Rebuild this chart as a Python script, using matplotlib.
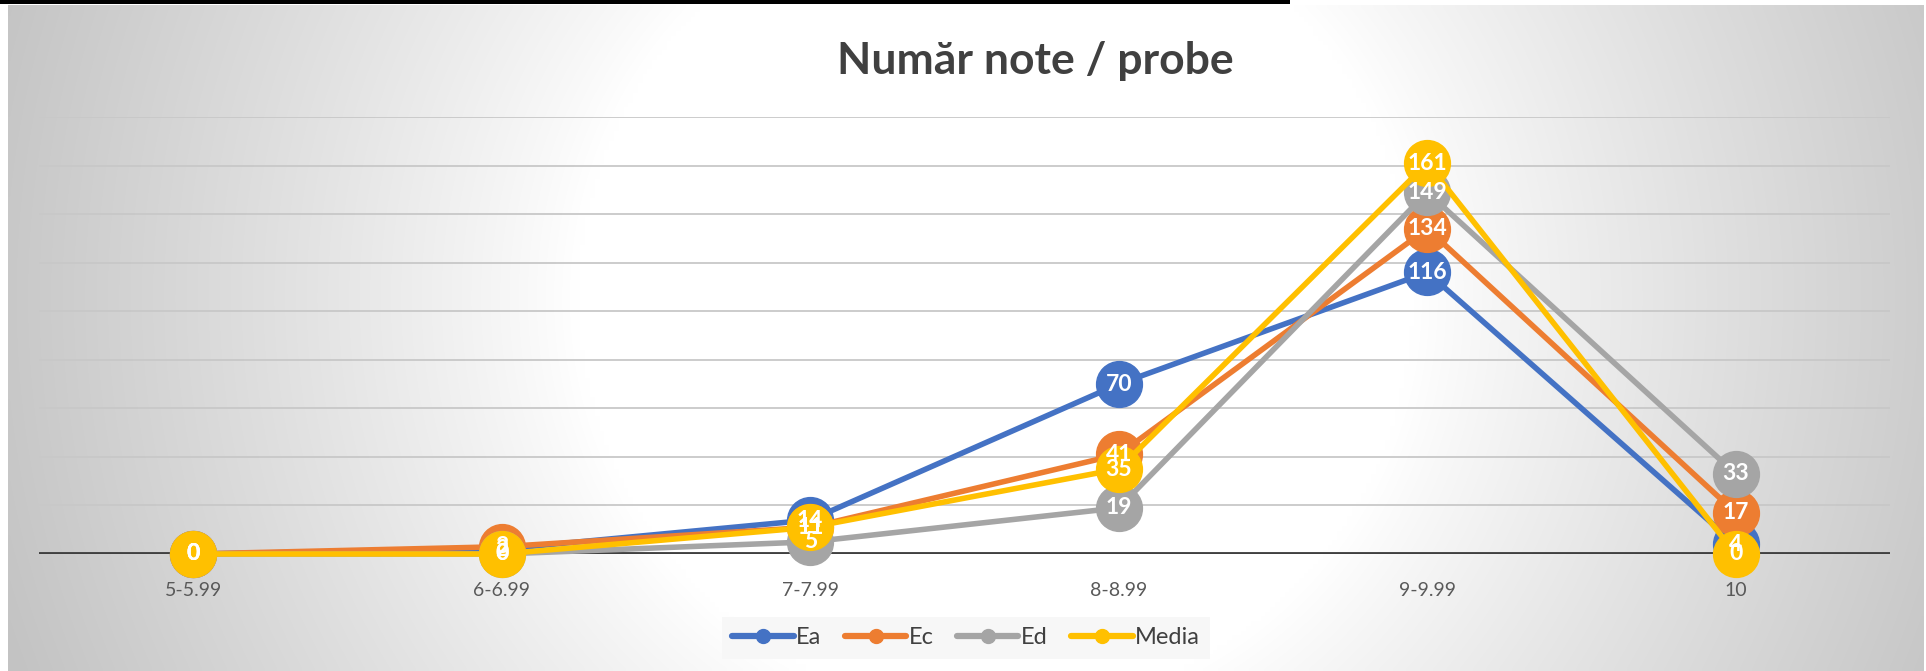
import numpy as np
import matplotlib
matplotlib.use("Agg")
import matplotlib.pyplot as plt
from matplotlib.lines import Line2D
from matplotlib.patches import Rectangle

categories = ["5-5.99", "6-6.99", "7-7.99", "8-8.99", "9-9.99", "10"]
ea = [0, 2, 14, 70, 116, 4]
ec = [0, 3, 11, 41, 134, 17]
ed = [0, 0, 5, 19, 149, 33]
media = [0, 0, 11, 35, 161, 0]
series_names = ["Ea", "Ec", "Ed", "Media"]
series_values = [ea, ec, ed, media]
colors = ["#4472C4", "#ED7D31", "#A5A5A5", "#FFC000"]
title = "Număr note / probe"

plt.rcParams['font.family'] = ['Lato', 'DejaVu Sans']

W, H = 1926, 671
fig = plt.figure(figsize=(W / 100, H / 100), dpi=100)
fig.patch.set_facecolor("white")

# black bar at top
fig.patches.append(Rectangle((0, 1 - 4 / H), 1290 / W, 4 / H, transform=fig.transFigure,
                             facecolor="black", edgecolor="none", zorder=0))

# radial gradient background
x0, y0, x1, y1 = 8, 5, 1923, 671
bg = fig.add_axes([x0 / W, 1 - y1 / H, (x1 - x0) / W, (y1 - y0) / H], zorder=-1)
nx, ny = 400, 140
xs = np.linspace(x0, x1, nx)
ys = np.linspace(y0, y1, ny)
XX, YY = np.meshgrid(xs, ys)
cx, cy = (x0 + x1) / 2 + 30, (y0 + y1) / 2 - 40
r = np.sqrt((XX - cx) ** 2 + (YY - cy) ** 2)
t = np.clip((r - 420) / (1050 - 420), 0, 1)
t = t ** 0.9
val = 1.0 - t * (1.0 - 0.765)
img = np.dstack([val, val, val])
bg.imshow(img, extent=[0, 1, 0, 1], aspect="auto", origin="upper", interpolation="bilinear")
bg.set_axis_off()

# main axes
left, right = 39, 1890
top, zero = 117, 554
ax = fig.add_axes([left / W, 1 - zero / H, (right - left) / W, (zero - top) / H])
ax.set_facecolor("none")
ax.set_xlim(-0.5, len(categories) - 0.5)
ax.set_ylim(0, 180)
for s in ax.spines.values():
    s.set_visible(False)
for yv in range(20, 181, 20):
    ax.axhline(yv, color="#C8C8C8", lw=1.3, zorder=1)
ax.axhline(0, color="#404040", lw=3.5, zorder=2)
ax.set_yticks([])
x = np.arange(len(categories))
ax.set_xticks(x)
ax.set_xticklabels(categories, fontsize=14, color="#595959")
ax.tick_params(axis="x", length=0, pad=20)

for i, (name, vals, col) in enumerate(zip(series_names, series_values, colors)):
    ax.plot(x, vals, color=col, lw=4, marker="o", markersize=33, markerfacecolor=col,
            markeredgecolor=col, zorder=3 + i, clip_on=False, solid_capstyle="round")
for i, (name, vals, col) in enumerate(zip(series_names, series_values, colors)):
    for xi, v in zip(x, vals):
        ax.text(xi, v, str(v), ha="center", va="center", color="white",
                fontsize=16.5, fontweight="bold", zorder=10 + i, clip_on=False)

fig.text(1035 / W, 1 - 61 / H, title, ha="center", va="center", fontsize=32,
         fontweight="bold", color="#404040")

handles = [Line2D([0], [0], color=c, lw=4.5, marker="o", markersize=10, solid_capstyle="round")
           for c in colors]
leg = fig.legend(handles, series_names, loc="center", bbox_to_anchor=(966 / W, 1 - 638 / H),
                 ncol=4, frameon=True, fontsize=17, handlelength=2.6, handletextpad=0.1,
                 columnspacing=1.0, borderpad=0.45, fancybox=False)
leg.get_frame().set_facecolor("#F7F7F7")
leg.get_frame().set_edgecolor("none")
leg.get_frame().set_alpha(1)
for txt in leg.get_texts():
    txt.set_color("#404040")

fig.savefig("out.png", dpi=100)
